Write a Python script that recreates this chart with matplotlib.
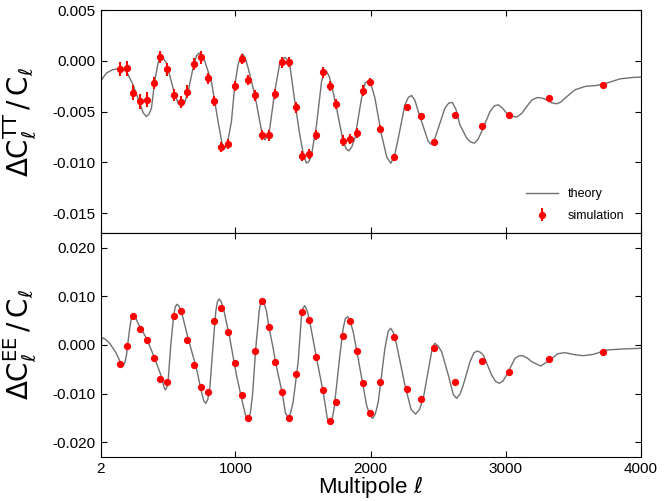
import numpy as np
import matplotlib
matplotlib.use("Agg")
import matplotlib.pyplot as plt

plt.rcParams["font.family"] = "Liberation Sans"
plt.rcParams["mathtext.fontset"] = "dejavusans"
plt.rcParams["axes.unicode_minus"] = False

COLOR_THEORY = "#707070"
COLOR_SIM = "#ff0000"

# TT: teoria (lectura de la figura)
ell_tt_teo = [2, 44, 90, 131, 170, 193, 242, 291, 318, 340, 360, 378, 402, 427, 440, 452,
              466, 489, 538, 575, 600, 625, 649, 686, 712, 730, 750, 773, 822, 871, 900,
              921, 942, 970, 995, 1019, 1037, 1052, 1070, 1094, 1143, 1180, 1200, 1217, 1235,
              1254, 1291, 1328, 1348, 1365, 1382, 1402, 1439, 1476, 1505, 1526, 1545, 1563,
              1600, 1637, 1655, 1674, 1692, 1711, 1748, 1797, 1820, 1839, 1860, 1884, 1933,
              1960, 1983, 2005, 2032, 2081, 2120, 2150, 2178, 2205, 2254, 2280, 2304, 2328,
              2353, 2402, 2425, 2447, 2472, 2501, 2550, 2578, 2605, 2632, 2661, 2711, 2740,
              2767, 2795, 2822, 2884, 2915, 2945, 2975, 3007, 3045, 3081, 3118, 3156, 3195,
              3234, 3270, 3304, 3340, 3378, 3410, 3439, 3513, 3587, 3674, 3748, 3847, 3945,
              4000]
dtt_teo = [-0.00200, -0.00122, -0.00088, -0.00079, -0.00090, -0.00105, -0.00237, -0.00417,
           -0.00515, -0.00549, -0.00525, -0.00467, -0.00204, -0.00023, 0.00030, 0.00042,
           0.00025, -0.00023, -0.00270, -0.00420, -0.00450, -0.00410, -0.00303, -0.00072,
           0.00050, 0.00076, 0.00055, -0.00007, -0.00204, -0.00599, -0.00810, -0.00865,
           -0.00800, -0.00599, -0.00237, -0.00039, 0.00040, 0.00066, 0.00035, -0.00072,
           -0.00335, -0.00599, -0.00740, -0.00779, -0.00745, -0.00664, -0.00300, -0.00023,
           0.00020, 0.00033, 0.00015, -0.00039, -0.00401, -0.00730, -0.00940, -0.01009,
           -0.00990, -0.00927, -0.00631, -0.00204, -0.00120, -0.00105, -0.00150, -0.00237,
           -0.00467, -0.00796, -0.00870, -0.00888, -0.00850, -0.00762, -0.00368, -0.00220,
           -0.00197, -0.00240, -0.00368, -0.00730, -0.00950, -0.01009, -0.00930, -0.00762,
           -0.00434, -0.00360, -0.00342, -0.00390, -0.00500, -0.00697, -0.00790, -0.00822,
           -0.00780, -0.00664, -0.00467, -0.00418, -0.00410, -0.00480, -0.00631, -0.00762,
           -0.00800, -0.00812, -0.00775, -0.00697, -0.00500, -0.00445, -0.00434, -0.00465,
           -0.00516, -0.00548, -0.00555, -0.00520, -0.00450, -0.00385, -0.00362, -0.00368,
           -0.00385, -0.00414, -0.00424, -0.00405, -0.00368, -0.00286, -0.00253, -0.00243,
           -0.00220, -0.00178, -0.00164, -0.00161]

# TT: simulacion
ell_tt_sim = [143, 195, 242, 294, 345, 395, 444, 494, 545, 595, 644, 694, 745, 795, 844, 896,
              946, 995, 1047, 1096, 1145, 1195, 1247, 1296, 1345, 1395, 1447, 1496, 1545, 1597,
              1647, 1696, 1745, 1797, 1847, 1896, 1945, 1995, 2071, 2173, 2271, 2373, 2471,
              2622, 2822, 3024, 3323, 3723]
dtt_sim = [-0.00082, -0.00076, -0.00313, -0.00401, -0.00382, -0.00220, 0.00036, -0.00086,
           -0.00335, -0.00408, -0.00303, -0.00030, 0.00033, -0.00174, -0.00398, -0.00848,
           -0.00822, -0.00247, 0.00020, -0.00190, -0.00342, -0.00730, -0.00736, -0.00329,
           -0.00017, -0.00010, -0.00460, -0.00937, -0.00920, -0.00730, -0.00115, -0.00247,
           -0.00424, -0.00786, -0.00772, -0.00713, -0.00293, -0.00207, -0.00674, -0.00944,
           -0.00454, -0.00549, -0.00802, -0.00536, -0.00641, -0.00539, -0.00368, -0.00240]
err_tt_sim = [0.0007, 0.0007, 0.0007, 0.0007, 0.0007, 0.0006, 0.0006, 0.0006, 0.0006, 0.0006,
              0.0006, 0.0006, 0.0006, 0.0005, 0.0005, 0.0005, 0.0005, 0.0005, 0.0005, 0.0005,
              0.0005, 0.0005, 0.0005, 0.0005, 0.0005, 0.0005, 0.0005, 0.0005, 0.0005, 0.0005,
              0.0005, 0.0005, 0.0005, 0.0005, 0.0005, 0.0005, 0.0005, 0.0004, 0.0004, 0.0003,
              0.0003, 0.0003, 0.0003, 0.0001, 0.0001, 0.0001, 0.0001, 0.0001]

# EE: teoria
ell_ee_teo = [2, 8, 15, 40, 69, 118, 150, 168, 182, 193, 217, 230, 242, 258, 279, 341, 402,
              452, 470, 481, 492, 501, 521, 543, 555, 568, 582, 600, 649, 711, 748, 765, 780,
              795, 810, 834, 854, 866, 879, 892, 908, 958, 1007, 1056, 1076, 1093, 1110, 1126,
              1150, 1175, 1186, 1197, 1212, 1230, 1247, 1279, 1296, 1345, 1370, 1390, 1408,
              1427, 1464, 1489, 1500, 1513, 1530, 1550, 1600, 1649, 1680, 1699, 1715, 1730,
              1773, 1797, 1813, 1830, 1848, 1871, 1921, 1970, 1995, 2015, 2035, 2057, 2106,
              2130, 2148, 2168, 2193, 2254, 2300, 2333, 2362, 2390, 2439, 2458, 2476, 2500,
              2526, 2575, 2612, 2637, 2662, 2686, 2736, 2765, 2790, 2812, 2834, 2896, 2925,
              2953, 2980, 3007, 3069, 3098, 3126, 3160, 3193, 3259, 3328, 3385, 3439, 3510,
              3575, 3649, 3748, 3871, 4000]
dee_teo = [-0.00720, 0.00100, 0.00150, 0.00110, 0.00035, -0.00171, -0.00370, -0.00427,
           -0.00360, -0.00206, 0.00344, 0.00560, 0.00619, 0.00580, 0.00447, 0.00138,
           -0.00274, -0.00653, -0.00860, -0.00928, -0.00870, -0.00757, 0.00000, 0.00619,
           0.00790, 0.00839, 0.00800, 0.00687, 0.00138, -0.00480, -0.00963, -0.01150,
           -0.01202, -0.01120, -0.00893, 0.00000, 0.00687, 0.00890, 0.00949, 0.00900,
           0.00790, 0.00138, -0.00619, -0.01237, -0.01460, -0.01526, -0.01400, -0.01031,
           -0.00068, 0.00687, 0.00880, 0.00928, 0.00860, 0.00687, 0.00371, -0.00068,
           -0.00351, -0.00976, -0.01400, -0.01499, -0.01400, -0.01169, -0.00344, 0.00619,
           0.00760, 0.00810, 0.00710, 0.00480, -0.00274, -0.00963, -0.01520, -0.01615,
           -0.01530, -0.01305, -0.00206, 0.00344, 0.00540, 0.00584, 0.00500, 0.00274,
           -0.00480, -0.01237, -0.01450, -0.01512, -0.01420, -0.01169, -0.00068, 0.00280,
           0.00344, 0.00260, 0.00000, -0.00825, -0.01330, -0.01423, -0.01330, -0.01099,
           -0.00344, -0.00040, 0.00035, -0.00020, -0.00138, -0.00619, -0.01020, -0.01099,
           -0.01010, -0.00825, -0.00344, -0.00160, -0.00124, -0.00150, -0.00206, -0.00619,
           -0.00750, -0.00790, -0.00740, -0.00619, -0.00274, -0.00225, -0.00220, -0.00270,
           -0.00344, -0.00433, -0.00309, -0.00180, -0.00158, -0.00200, -0.00220, -0.00193,
           -0.00103, -0.00082, -0.00068]

# EE: simulacion
ell_ee_sim = [143, 195, 242, 294, 345, 395, 444, 494, 545, 595, 644, 694, 745, 795, 844, 896,
              946, 995, 1047, 1096, 1145, 1195, 1247, 1296, 1345, 1395, 1447, 1496, 1545, 1597,
              1647, 1696, 1745, 1797, 1847, 1896, 1945, 1995, 2071, 2173, 2271, 2373, 2471,
              2622, 2822, 3024, 3323, 3723]
dee_sim = [-0.00385, -0.00027, 0.00598, 0.00330, 0.00110, -0.00275, -0.00694, -0.00756,
           0.00591, 0.00700, 0.00096, -0.00419, -0.00873, -0.00976, 0.00488, 0.00770,
           0.00261, -0.00378, -0.01038, -0.01512, -0.00124, 0.00914, 0.00371, -0.00351,
           -0.00976, -0.01499, -0.00598, 0.00687, 0.00509, -0.00247, -0.00921, -0.01573,
           -0.01175, 0.00186, 0.00501, -0.00124, -0.00784, -0.01408, -0.00763, 0.00159,
           -0.00913, -0.01120, -0.00062, -0.00769, -0.00336, -0.00550, -0.00295, -0.00144]

fig = plt.figure(figsize=(6.71, 5.01), dpi=100)
ax1 = fig.add_axes([0.150, 0.5343, 0.805, 0.4457])
ax2 = fig.add_axes([0.150, 0.0885, 0.805, 0.4458], sharex=ax1)

ax1.plot(ell_tt_teo, dtt_teo, color=COLOR_THEORY, linewidth=1.0, label="theory")
ax1.errorbar(ell_tt_sim, dtt_sim, yerr=err_tt_sim, fmt="o", color=COLOR_SIM, ms=4.2,
             elinewidth=1.5, capsize=0, mec=COLOR_SIM, label="simulation")
ax1.set_ylim(-0.017, 0.005)
ax1.set_yticks([0.005, 0.0, -0.005, -0.010, -0.015])
ax1.set_yticklabels(["0.005", "0.000", "-0.005", "-0.010", "-0.015"])
ax1.set_ylabel(r"$\Delta \mathsf{C}_{\ell}^{\mathsf{TT}}\,/\,\mathsf{C}_{\ell}$", fontsize=20)
ax1.tick_params(labelbottom=False)
ax1.legend(loc="lower right", frameon=False, fontsize=9, numpoints=1, handlelength=2.5,
           labelspacing=0.8, bbox_to_anchor=(0.99, 0.0))

ax2.plot(ell_ee_teo, dee_teo, color=COLOR_THEORY, linewidth=1.0)
ax2.plot(ell_ee_sim, dee_sim, "o", color=COLOR_SIM, ms=4.2, mec=COLOR_SIM)
ax2.set_ylim(-0.023, 0.023)
ax2.set_yticks([0.020, 0.010, 0.0, -0.010, -0.020])
ax2.set_yticklabels(["0.020", "0.010", "0.000", "-0.010", "-0.020"])
ax2.set_ylabel(r"$\Delta \mathsf{C}_{\ell}^{\mathsf{EE}}\,/\,\mathsf{C}_{\ell}$", fontsize=20)
ax2.set_xlim(2, 4000)
ax2.set_xticks([2, 1000, 2000, 3000, 4000])
ax2.set_xticklabels(["2", "1000", "2000", "3000", "4000"])
ax2.set_xlabel(r"Multipole $\ell$", fontsize=16, labelpad=-1)

for ax in (ax1, ax2):
    ax.tick_params(direction="in", top=True, right=True, length=4, labelsize=11)
    ax.yaxis.set_label_coords(-0.115, 0.5)

plt.savefig("out.png", dpi=100)
